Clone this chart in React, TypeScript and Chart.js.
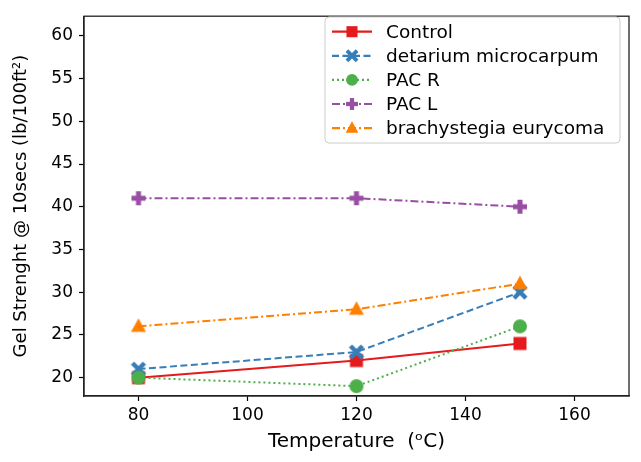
import React, { useEffect, useRef } from "react";
import { Chart, registerables } from "chart.js";

Chart.register(...registerables);

const temperatures = [80, 120, 150];
const control = [20, 22, 24];
const detarium = [21, 23, 30];
const pacR = [20, 19, 26];
const pacL = [41, 41, 40];
const brachystegia = [26, 28, 31];
const seriesLabels = [
  "Control",
  "detarium microcarpum",
  "PAC R",
  "PAC L",
  "brachystegia eurycoma",
];
const xTicks = [80, 100, 120, 140, 160];
const yTicks = [20, 25, 30, 35, 40, 45, 50, 55, 60];

const FONT = "'DejaVu Sans', 'Noto Sans', sans-serif";
const colors = ["#e41a1c", "#377eb8", "#4daf4a", "#984ea3", "#ff7f00"];
const markers = ["square", "x", "circle", "plus", "triangle"];
const dashes: number[][] = [[], [7, 3.5], [2, 3], [8, 3, 2, 3], [8, 3, 2, 3]];

function drawMarker(ctx: CanvasRenderingContext2D, kind: string, cx: number, cy: number, color: string, k = 1) {
  ctx.save();
  ctx.fillStyle = color;
  ctx.strokeStyle = color;
  ctx.setLineDash([]);
  if (kind === "square") {
    ctx.fillRect(cx - 6.5 * k, cy - 6.5 * k, 13 * k, 13 * k);
  } else if (kind === "circle") {
    ctx.beginPath();
    ctx.arc(cx, cy, 7 * k, 0, Math.PI * 2);
    ctx.fill();
  } else if (kind === "triangle") {
    ctx.beginPath();
    ctx.moveTo(cx, cy - 8 * k);
    ctx.lineTo(cx + 7.5 * k, cy + 5.5 * k);
    ctx.lineTo(cx - 7.5 * k, cy + 5.5 * k);
    ctx.closePath();
    ctx.fill();
  } else if (kind === "x") {
    ctx.lineWidth = 4.5 * k;
    ctx.lineCap = "butt";
    ctx.beginPath();
    ctx.moveTo(cx - 6 * k, cy - 6 * k);
    ctx.lineTo(cx + 6 * k, cy + 6 * k);
    ctx.moveTo(cx + 6 * k, cy - 6 * k);
    ctx.lineTo(cx - 6 * k, cy + 6 * k);
    ctx.stroke();
  } else if (kind === "plus") {
    ctx.fillRect(cx - 2.5 * k, cy - 7 * k, 5 * k, 14 * k);
    ctx.fillRect(cx - 7 * k, cy - 2.5 * k, 14 * k, 5 * k);
  }
  ctx.restore();
}

function markerCanvas(kind: string, color: string): HTMLCanvasElement {
  const c = document.createElement("canvas");
  c.width = 22;
  c.height = 22;
  const ctx = c.getContext("2d")!;
  drawMarker(ctx, kind, 11, 11, color);
  return c;
}

const framePlugin = {
  id: "frame",
  afterDatasetsDraw(chart: any) {
    const { ctx, chartArea: a } = chart;
    ctx.save();
    ctx.strokeStyle = "#222";
    ctx.lineWidth = 1.3;
    ctx.strokeRect(a.left, a.top, a.right - a.left, a.bottom - a.top);
    ctx.restore();
  },
};

const legendPlugin = {
  id: "customLegend",
  afterDraw(chart: any) {
    const ctx: CanvasRenderingContext2D = chart.ctx;
    const x0 = 325, y0 = 17, w = 295, h = 126, r = 4;
    ctx.save();
    ctx.beginPath();
    ctx.moveTo(x0 + r, y0);
    ctx.arcTo(x0 + w, y0, x0 + w, y0 + h, r);
    ctx.arcTo(x0 + w, y0 + h, x0, y0 + h, r);
    ctx.arcTo(x0, y0 + h, x0, y0, r);
    ctx.arcTo(x0, y0, x0 + w, y0, r);
    ctx.closePath();
    ctx.fillStyle = "rgba(255,255,255,0.85)";
    ctx.fill();
    ctx.strokeStyle = "#cccccc";
    ctx.lineWidth = 1;
    ctx.stroke();
    chart.data.datasets.forEach((ds: any, i: number) => {
      const y = 31.7 + i * 24.1;
      ctx.strokeStyle = colors[i];
      ctx.lineWidth = 2.2;
      ctx.setLineDash(dashes[i]);
      ctx.beginPath();
      ctx.moveTo(332, y);
      ctx.lineTo(372, y);
      ctx.stroke();
      ctx.setLineDash([]);
      drawMarker(ctx, markers[i], 352, y, colors[i], 0.85);
      ctx.fillStyle = "#000";
      ctx.font = `18.5px ${FONT}`;
      ctx.textBaseline = "middle";
      ctx.textAlign = "left";
      ctx.fillText(ds.label, 386, y + 1);
    });
    ctx.restore();
  },
};

export default function App() {
  const ref = useRef<HTMLCanvasElement>(null);
  useEffect(() => {
    const seriesValues = [control, detarium, pacR, pacL, brachystegia];
    const chart = new Chart(ref.current!, {
      type: "line",
      data: {
        datasets: seriesValues.map((vals, i) => ({
          label: seriesLabels[i],
          data: temperatures.map((t, j) => ({ x: t, y: vals[j] })),
          borderColor: colors[i],
          backgroundColor: colors[i],
          borderWidth: 2,
          borderDash: dashes[i],
          pointStyle: markerCanvas(markers[i], colors[i]) as any,
          pointRadius: 7,
          pointHoverRadius: 7,
          tension: 0,
          fill: false,
          order: 5 - i,
        })),
      },
      options: {
        responsive: false,
        animation: false,
        devicePixelRatio: 1,
        layout: { padding: { left: 0, top: 10, right: 12, bottom: 0 } },
        plugins: {
          legend: { display: false },
          tooltip: { enabled: false },
        },
        scales: {
          x: {
            type: "linear",
            min: 70,
            max: 170,
            afterBuildTicks: (s: any) => {
              s.ticks = xTicks.map((v) => ({ value: v }));
            },
            afterFit: (s: any) => {
              s.height = 66;
            },
            grid: {
              drawOnChartArea: false,
              drawTicks: true,
              tickLength: 5,
              tickWidth: 1.2,
              tickColor: "#000",
            },
            border: { display: true, color: "#222", width: 1.3 },
            ticks: {
              autoSkip: false,
              maxRotation: 0,
              padding: 4,
              color: "#000",
              font: { family: FONT, size: 17 },
            },
            title: {
              display: true,
              text: "Temperature  (ᵒC)",
              color: "#000",
              font: { family: FONT, size: 20 },
              padding: { top: 0, bottom: 8 },
            },
          },
          y: {
            type: "linear",
            min: 17.85,
            max: 62.3,
            afterBuildTicks: (s: any) => {
              s.ticks = yTicks.map((v) => ({ value: v }));
            },
            afterFit: (s: any) => {
              s.width = 84;
            },
            grid: {
              drawOnChartArea: false,
              drawTicks: true,
              tickLength: 5,
              tickWidth: 1.2,
              tickColor: "#000",
            },
            border: { display: true, color: "#222", width: 1.3 },
            ticks: {
              autoSkip: false,
              padding: 6,
              color: "#000",
              font: { family: FONT, size: 17 },
            },
            title: {
              display: true,
              text: "Gel Strenght @ 10secs (lb/100ft²)",
              color: "#000",
              font: { family: FONT, size: 18 },
              padding: { top: 11, bottom: 0 },
            },
          },
        },
      },
      plugins: [framePlugin, legendPlugin],
    });
    return () => chart.destroy();
  }, []);
  return (
    <div style={{ position: "absolute", left: 0, top: 0, width: 641, height: 462, background: "#fff" }}>
      <canvas ref={ref} width={641} height={462} style={{ width: 641, height: 462, display: "block" }} />
    </div>
  );
}
